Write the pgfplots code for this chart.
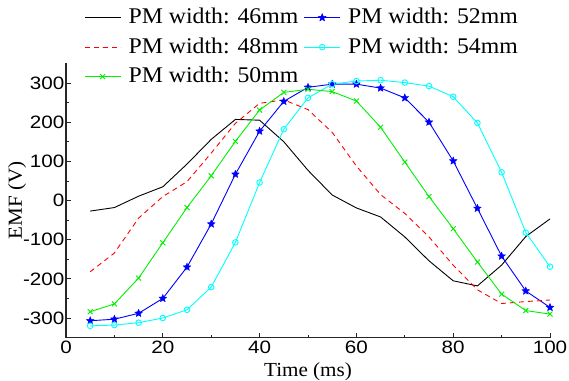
\documentclass[border=0pt]{standalone}
\usepackage{fontspec}
\setmainfont[FakeStretch=1.06]{Liberation Serif}
\newfontfamily\tickfont[FakeStretch=1.15]{Liberation Sans}
\usepackage{pgfplots}
\pgfplotsset{compat=1.18}
\definecolor{pmgreen}{RGB}{0,240,0}
\definecolor{pmblue}{RGB}{0,0,255}
\definecolor{pmcyan}{RGB}{0,255,255}
\definecolor{pmred}{RGB}{255,0,0}
\pgfdeclareplotmark{fstar}{%
  \pgfpathmoveto{\pgfpointpolar{90}{\pgfplotmarksize}}%
  \pgfpathlineto{\pgfpointpolar{126}{0.45\pgfplotmarksize}}%
  \pgfpathlineto{\pgfpointpolar{162}{\pgfplotmarksize}}%
  \pgfpathlineto{\pgfpointpolar{198}{0.45\pgfplotmarksize}}%
  \pgfpathlineto{\pgfpointpolar{234}{\pgfplotmarksize}}%
  \pgfpathlineto{\pgfpointpolar{270}{0.45\pgfplotmarksize}}%
  \pgfpathlineto{\pgfpointpolar{306}{\pgfplotmarksize}}%
  \pgfpathlineto{\pgfpointpolar{342}{0.45\pgfplotmarksize}}%
  \pgfpathlineto{\pgfpointpolar{18}{\pgfplotmarksize}}%
  \pgfpathlineto{\pgfpointpolar{54}{0.45\pgfplotmarksize}}%
  \pgfpathclose
  \pgfusepathqfillstroke}
\begin{document}
\begin{tikzpicture}
\path[use as bounding box] (-66bp,-43.4bp) rectangle (503bp,337.6bp);
\begin{axis}[
  scale only axis, width=484bp, height=274.2bp,
  xmin=0, xmax=100, ymin=-350, ymax=350,
  xtick={0,20,...,100}, minor x tick num=1,
  ytick={-300,-200,...,300}, minor y tick num=1,
  axis x line*=bottom, axis y line*=left,
  axis line style={-, line width=1.1bp, black!85},
  tick align=inside,
  major tick length=5bp, minor tick length=3bp,
  tick style={line width=0.8bp, black!85},
  /pgf/number format/assume math mode=true,
  ticklabel style={font=\tickfont\fontsize{18}{21}\selectfont},
  yticklabel style={inner xsep=1.5bp},
  xlabel={Time (ms)}, ylabel={EMF (V)},
  label style={font=\fontsize{20}{24}\selectfont},
  xlabel style={at={(axis description cs:0.5,0)}, anchor=center, yshift=-34.5bp},
  ylabel style={at={(axis description cs:0,0.5)}, anchor=center, yshift=49bp},
  legend columns=2,
  legend image code/.code={\path (0bp,0bp) (42bp,0bp);\draw[mark repeat=2,mark phase=2,#1] plot coordinates {(0bp,0bp) (18bp,0bp) (36bp,0bp)};},
  legend style={at={(rel axis cs:0.0372,1.2096)}, anchor=north west, draw=none, fill=none,
    inner sep=0pt, font=\fontsize{22.5}{26}\selectfont, row sep=6.5bp,
    nodes={inner sep=1.5bp, text height=16bp, text depth=4bp},
    /tikz/every even column/.append style={column sep=4bp}},
  legend cell align=left,
  every axis plot/.append style={line width=0.9bp},
]
\addplot[black, no marks] coordinates {
(5,-27) (10,-18) (15,11) (20,35) (25,93) (30,156) (35,207) (40,205) (45,150) (50,77)
(55,14) (60,-19) (65,-42) (70,-93) (75,-154) (80,-205) (85,-218) (90,-165) (95,-92) (100,-47)};
\addlegendentry{PM width: 46mm}
\addplot[pmblue, mark=fstar, mark size=4bp, mark options={line width=0.4bp}] coordinates {
(5,-307) (10,-303) (15,-288) (20,-250) (25,-170) (30,-60) (35,67) (40,177) (45,253) (50,289)
(55,297) (60,297) (65,287) (70,262) (75,200) (80,101) (85,-20) (90,-142) (95,-231) (100,-273)};
\addlegendentry{PM width: 52mm}
\addplot[pmred, no marks, dash pattern=on 5bp off 4bp] coordinates {
(5,-182) (10,-134) (15,-45) (20,10) (25,48) (30,121) (35,197) (40,248) (45,257) (50,232)
(55,174) (60,88) (65,15) (70,-33) (75,-93) (80,-165) (85,-228) (90,-263) (95,-258) (100,-254)};
\addlegendentry{PM width: 48mm}
\addplot[pmcyan, mark=o, mark size=2.8bp] coordinates {
(5,-320) (10,-318) (15,-312) (20,-300) (25,-279) (30,-221) (35,-107) (40,46) (45,182) (50,262)
(55,297) (60,305) (65,307) (70,301) (75,292) (80,265) (85,198) (90,72) (95,-82) (100,-169)};
\addlegendentry{PM width: 54mm}
\addplot[pmgreen, mark=x, mark size=3.5bp] coordinates {
(5,-284) (10,-264) (15,-198) (20,-108) (25,-18) (30,63) (35,151) (40,231) (45,276) (50,284)
(55,278) (60,254) (65,187) (70,98) (75,10) (80,-72) (85,-157) (90,-239) (95,-281) (100,-290)};
\addlegendentry{PM width: 50mm}
\end{axis}
\end{tikzpicture}
\end{document}
